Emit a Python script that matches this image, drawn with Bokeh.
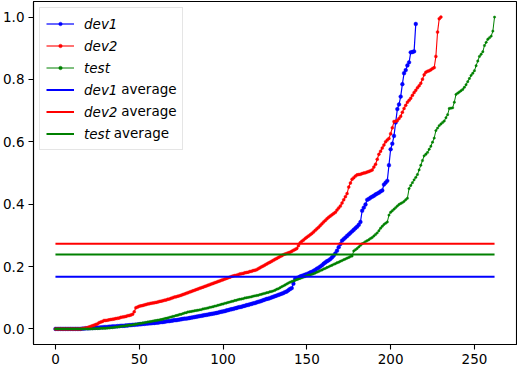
from bokeh.plotting import figure
from bokeh.models import Range1d, FixedTicker, PrintfTickFormatter, Legend, LegendItem, Label
from bokeh.embed import file_html
from bokeh.resources import INLINE

# ---------------- data ----------------
dev1 = [
    0, 0, 0, 0, 0, 0, 0, 0, 0, 0, 0, 0, 0, 0, 0,
    0.000, 0.001, 0.001, 0.002, 0.002,
    0.002, 0.003, 0.003, 0.003, 0.004, 0.004, 0.004, 0.005, 0.005, 0.006,
    0.006, 0.006, 0.007, 0.007, 0.008, 0.008, 0.008, 0.009, 0.009, 0.010,
    0.010, 0.010, 0.011, 0.011, 0.012, 0.012, 0.013, 0.013, 0.014, 0.014,
    0.015, 0.015, 0.016, 0.016, 0.017, 0.017, 0.018, 0.018, 0.019, 0.019,
    0.020, 0.020, 0.021, 0.022, 0.022, 0.023, 0.024, 0.025, 0.025, 0.026,
    0.027, 0.028, 0.028, 0.029, 0.030, 0.031, 0.032, 0.033, 0.033, 0.034,
    0.035, 0.036, 0.037, 0.038, 0.039, 0.040, 0.041, 0.042, 0.043, 0.044,
    0.045, 0.046, 0.047, 0.048, 0.049, 0.050, 0.051, 0.052, 0.054, 0.055,
    0.056, 0.057, 0.059, 0.060, 0.062, 0.063, 0.064, 0.066, 0.067, 0.069,
    0.070, 0.071, 0.073, 0.074, 0.076, 0.077, 0.079, 0.080, 0.082, 0.083,
    0.085, 0.087, 0.088, 0.090, 0.092, 0.094, 0.096, 0.097, 0.099, 0.101,
    0.103, 0.105, 0.107, 0.109, 0.111, 0.113, 0.115, 0.118, 0.120, 0.124,
    0.128, 0.131, 0.145, 0.160, 0.163, 0.165, 0.168, 0.170, 0.172, 0.174,
    0.176, 0.178, 0.181, 0.183, 0.186, 0.189, 0.193, 0.196, 0.200, 0.204,
    0.209, 0.213, 0.217, 0.220, 0.224, 0.229, 0.235, 0.242, 0.251, 0.262,
    0.272, 0.283, 0.288, 0.293, 0.298, 0.303, 0.308, 0.313, 0.318, 0.323,
    0.328, 0.334, 0.343, 0.379, 0.389, 0.399, 0.414, 0.417, 0.421, 0.424,
    0.427, 0.431, 0.434, 0.437, 0.441, 0.444, 0.463, 0.469, 0.475, 0.525,
    0.576, 0.594, 0.619, 0.662, 0.705, 0.720, 0.745, 0.785, 0.820, 0.830,
    0.845, 0.855, 0.887, 0.888, 0.890, 0.978,
]

dev2 = [
    0, 0, 0, 0, 0, 0, 0, 0, 0, 0, 0, 0, 0, 0, 0,
    0.000, 0.001, 0.002, 0.003, 0.004,
    0.006, 0.008, 0.010, 0.012, 0.014, 0.016, 0.020, 0.022, 0.024, 0.027,
    0.027, 0.028, 0.029, 0.030, 0.031, 0.032, 0.033, 0.034, 0.035, 0.037,
    0.038, 0.039, 0.040, 0.042, 0.043, 0.045, 0.047, 0.055, 0.068, 0.070,
    0.073, 0.074, 0.075, 0.077, 0.078, 0.080, 0.081, 0.082, 0.083, 0.084,
    0.085, 0.086, 0.088, 0.089, 0.090, 0.092, 0.093, 0.095, 0.096, 0.098,
    0.100, 0.102, 0.103, 0.105, 0.106, 0.108, 0.110, 0.112, 0.114, 0.116,
    0.118, 0.120, 0.122, 0.124, 0.126, 0.128, 0.130, 0.132, 0.134, 0.136,
    0.138, 0.140, 0.142, 0.144, 0.146, 0.148, 0.150, 0.152, 0.154, 0.156,
    0.158, 0.160, 0.162, 0.164, 0.166, 0.168, 0.170, 0.171, 0.172, 0.174,
    0.176, 0.177, 0.178, 0.180, 0.181, 0.182, 0.184, 0.185, 0.187, 0.188,
    0.190, 0.193, 0.196, 0.199, 0.202, 0.205, 0.208, 0.211, 0.214, 0.217,
    0.220, 0.223, 0.226, 0.229, 0.232, 0.235, 0.238, 0.240, 0.242, 0.244,
    0.246, 0.249, 0.252, 0.255, 0.258, 0.267, 0.276, 0.281, 0.285, 0.290,
    0.294, 0.298, 0.302, 0.306, 0.311, 0.316, 0.321, 0.326, 0.332, 0.337,
    0.343, 0.348, 0.353, 0.358, 0.362, 0.366, 0.370, 0.374, 0.381, 0.388,
    0.394, 0.404, 0.414, 0.424, 0.434, 0.455, 0.468, 0.480, 0.485, 0.490,
    0.494, 0.495, 0.496, 0.498, 0.500, 0.501, 0.503, 0.505, 0.507, 0.510,
    0.519, 0.528, 0.544, 0.560, 0.570, 0.580, 0.590, 0.600, 0.606, 0.611,
    0.626, 0.645, 0.665, 0.666, 0.668, 0.675, 0.682, 0.695, 0.707, 0.717,
    0.727, 0.733, 0.740, 0.749, 0.758, 0.765, 0.773, 0.780, 0.788, 0.801,
    0.815, 0.823, 0.826, 0.828, 0.831, 0.835, 0.838, 0.874, 0.952, 0.995,
    1.000,
]

test = [
    0, 0, 0, 0, 0, 0, 0, 0, 0, 0, 0, 0, 0, 0, 0, 0, 0, 0, 0, 0,
    0.000, 0.000, 0.000, 0.001, 0.001, 0.001, 0.001, 0.002, 0.002, 0.002,
    0.002, 0.003, 0.003, 0.004, 0.004, 0.005, 0.006, 0.006, 0.007, 0.008,
    0.009, 0.009, 0.010, 0.011, 0.012, 0.012, 0.013, 0.014, 0.015, 0.016,
    0.017, 0.018, 0.019, 0.020, 0.021, 0.022, 0.023, 0.024, 0.025, 0.026,
    0.027, 0.028, 0.029, 0.030, 0.031, 0.033, 0.034, 0.035, 0.037, 0.038,
    0.040, 0.041, 0.043, 0.044, 0.046, 0.047, 0.049, 0.051, 0.052, 0.054,
    0.055, 0.056, 0.057, 0.058, 0.059, 0.060, 0.061, 0.062, 0.064, 0.065,
    0.066, 0.067, 0.069, 0.070, 0.071, 0.073, 0.074, 0.076, 0.077, 0.079,
    0.080, 0.082, 0.083, 0.085, 0.086, 0.088, 0.089, 0.091, 0.092, 0.094,
    0.095, 0.096, 0.097, 0.099, 0.100, 0.101, 0.102, 0.103, 0.105, 0.106,
    0.107, 0.108, 0.110, 0.111, 0.113, 0.114, 0.116, 0.117, 0.119, 0.120,
    0.122, 0.124, 0.127, 0.129, 0.132, 0.135, 0.138, 0.141, 0.144, 0.147,
    0.150, 0.152, 0.154, 0.156, 0.158, 0.160, 0.162, 0.164, 0.166, 0.168,
    0.170, 0.172, 0.173, 0.175, 0.177, 0.179, 0.182, 0.184, 0.187, 0.189,
    0.192, 0.194, 0.197, 0.199, 0.202, 0.204, 0.207, 0.209, 0.212, 0.214,
    0.217, 0.219, 0.222, 0.224, 0.227, 0.229, 0.232, 0.234, 0.250, 0.254,
    0.258, 0.263, 0.268, 0.273, 0.276, 0.280, 0.283, 0.286, 0.290, 0.293,
    0.298, 0.303, 0.308, 0.315, 0.323, 0.329, 0.335, 0.339, 0.343, 0.365,
    0.374, 0.379, 0.384, 0.389, 0.394, 0.399, 0.402, 0.405, 0.409, 0.414,
    0.419, 0.450, 0.460, 0.469, 0.478, 0.486, 0.495, 0.510, 0.525, 0.540,
    0.555, 0.560, 0.566, 0.576, 0.586, 0.599, 0.612, 0.636, 0.644, 0.652,
    0.657, 0.662, 0.667, 0.677, 0.687, 0.707, 0.708, 0.709, 0.727, 0.752,
    0.756, 0.760, 0.764, 0.768, 0.775, 0.783, 0.793, 0.803, 0.813, 0.820,
    0.828, 0.844, 0.859, 0.874, 0.881, 0.889, 0.909, 0.919, 0.929, 0.934,
    0.939, 0.955, 1.000,
]

dev1_avg = 0.167
dev2_avg = 0.273
test_avg = 0.239

series_names = ["dev1", "dev2", "test"]
x_ticks = [0, 50, 100, 150, 200, 250]
y_ticks = [0.0, 0.2, 0.4, 0.6, 0.8, 1.0]

# ---------------- figure ----------------
FONT = "DejaVu Sans"
FS = "13.5px"
FRAME_H = 343

p = figure(frame_width=483, frame_height=FRAME_H, output_backend="svg", toolbar_location=None,
           x_range=Range1d(-13.1, 275.1), y_range=Range1d(-0.05, 1.05),
           min_border_top=1, min_border_right=1, min_border_left=0, min_border_bottom=0,
           background_fill_color="white", border_fill_color="white")
p.xgrid.visible = False
p.ygrid.visible = False
p.outline_line_color = "black"
p.outline_line_width = 1.1

for ax in (p.xaxis[0], p.yaxis[0]):
    ax.axis_line_color = "black"
    ax.axis_line_width = 1.1
    ax.major_tick_line_color = "black"
    ax.major_tick_line_width = 1.1
    ax.major_tick_out = 5
    ax.major_tick_in = 0
    ax.minor_tick_line_color = None
    ax.major_label_text_font = FONT
    ax.major_label_text_font_size = FS
    ax.major_label_text_color = "black"
    ax.major_label_standoff = 4
p.xaxis.ticker = FixedTicker(ticks=x_ticks)
p.yaxis.ticker = FixedTicker(ticks=y_ticks)
p.yaxis.formatter = PrintfTickFormatter(format="%.1f")

colors = {"dev1": "#0000ff", "dev2": "#ff0000", "test": "#008000"}
data = {"dev1": dev1, "dev2": dev2, "test": test}
avgs = {"dev1": dev1_avg, "dev2": dev2_avg, "test": test_avg}
msize = {"dev1": 3.8, "dev2": 3.0, "test": 2.4}
lw = {"dev1": 1.2, "dev2": 1.1, "test": 1.0}

curve_items = []
for name in series_names:
    ys = data[name]
    xs = list(range(len(ys)))
    l = p.line(xs, ys, line_color=colors[name], line_width=lw[name])
    s = p.scatter(xs, ys, marker="circle", size=msize[name],
                  fill_color=colors[name], line_color=colors[name], line_width=0.4)
    curve_items.append(LegendItem(label=name, renderers=[l, s]))

n_max = max(len(dev1), len(dev2), len(test))
avg_items = []
for name in series_names:
    la = p.line([0, n_max - 1], [avgs[name], avgs[name]], line_color=colors[name], line_width=2)
    avg_items.append(LegendItem(label=name, renderers=[la]))

MARGIN, PAD, GW, GH, LH, SP, STAND = 6, 6, 28, 9, 19, 3, 10
legend = Legend(items=curve_items + avg_items, location="top_left",
                margin=MARGIN, padding=PAD, spacing=SP,
                glyph_width=GW, glyph_height=GH, label_height=LH, label_width=92,
                label_standoff=STAND,
                label_text_font=FONT, label_text_font_size=FS, label_text_font_style="italic",
                label_text_color="black",
                border_line_color="#cccccc", border_line_width=1,
                background_fill_color="white", background_fill_alpha=0.0)
p.add_layout(legend, "center")

# upright "average" after the italic series names in the last three legend rows
name_w = {"dev1": 33.5, "dev2": 33.5, "test": 26.0}
for k, name in enumerate(series_names):
    row = 3 + k
    cy_top = MARGIN + PAD + row * (LH + SP) + LH / 2
    sx = MARGIN + PAD + GW + STAND + name_w[name] + 4.3
    p.add_layout(Label(x=sx, y=FRAME_H - cy_top, x_units="screen", y_units="screen",
                       text="average", text_font=FONT, text_font_size=FS,
                       text_color="black", text_baseline="middle", text_align="left",
                       level="overlay"))

open("out.html", "w").write(file_html(p, INLINE))
